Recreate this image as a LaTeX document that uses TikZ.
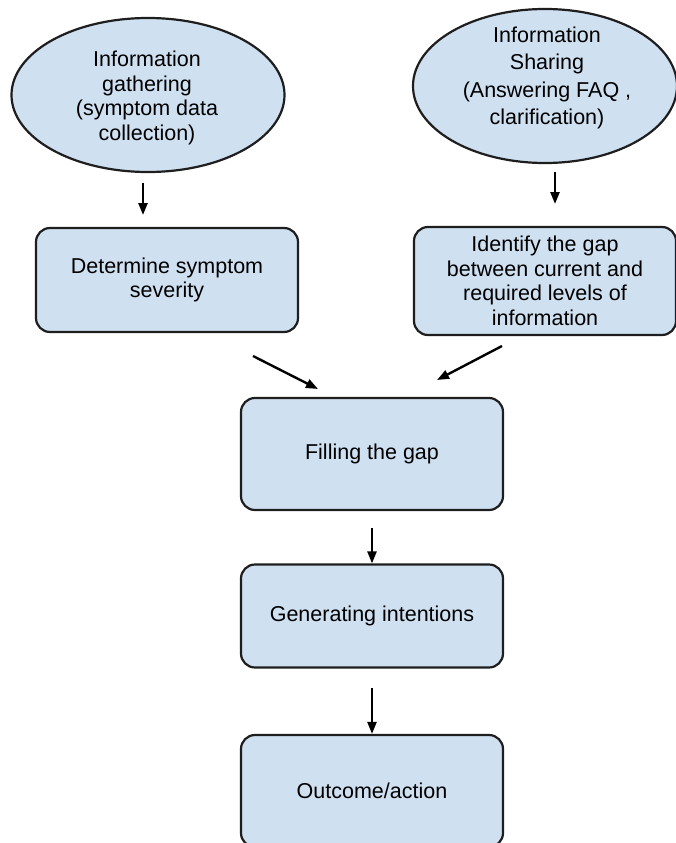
\documentclass[tikz,border=0pt]{standalone}
\usepackage{fontspec}
\setmainfont{Liberation Sans}
\usetikzlibrary{shapes.geometric,arrows.meta}
\definecolor{boxfill}{HTML}{CFE0F1}
\definecolor{boxline}{HTML}{1E1E1E}
\begin{document}
\begin{tikzpicture}[x=1pt,y=-1pt,
  lbl/.style={font=\fontsize{21.5}{24.5}\selectfont, align=center, text=black},
  oval/.style={ellipse, draw=boxline, line width=2.2pt, fill=boxfill, inner sep=0pt},
  stepbox/.style={rectangle, rounded corners=14pt, draw=boxline, line width=2.2pt, fill=boxfill, inner sep=0pt, minimum width=262pt, lbl},
  arr/.style={-{Triangle[length=12pt,width=9pt]}, line width=2.4pt, black}]
\useasboundingbox (0,0) rectangle (676,843);
\clip (0,0) rectangle (676,843);
\node[oval, minimum width=273pt, minimum height=154pt] (e1) at (148,95) {};
\node[lbl] (e1t) at (147,98)
  {Information\\gathering\\(symptom data\\collection)};
\node[oval, minimum width=264pt, minimum height=154pt] (e2) at (545,86) {};
\node[lbl, font=\fontsize{21.5}{27.5}\selectfont] (e2t) at (547,78)
  {Information\\Sharing\\(Answering FAQ ,\\clarification)};
\node[stepbox, minimum width=262pt, minimum height=104pt] (b1) at (167,280)
  {Determine symptom\\severity};
\node[stepbox, minimum height=108pt] (b2) at (545,281)
  {Identify the gap\\between current and\\required levels of\\information};
\node[stepbox, minimum height=112pt] (fill) at (372,454) {Filling the gap};
\node[stepbox, minimum height=103pt] (gen) at (372,616) {Generating intentions};
\node[stepbox, minimum height=112pt] (out) at (372,791) {Outcome/action};
\coordinate (a1s) at (143,183); \coordinate (a1e) at (143,215);
\coordinate (a2s) at (555,172); \coordinate (a2e) at (555,204);
\coordinate (a3s) at (253,356); \coordinate (a3e) at (318,389);
\coordinate (a4s) at (502,346); \coordinate (a4e) at (437,380);
\coordinate (a5s) at (372,528);
\coordinate (a6s) at (372,688);
\draw[arr] (a1s) -- (a1e);
\draw[arr] (a2s) -- (a2e);
\draw[arr] (a3s) -- (a3e);
\draw[arr] (a4s) -- (a4e);
\draw[arr] (a5s) -- (gen.north);
\draw[arr] (a6s) -- (out.north);
\end{tikzpicture}
\end{document}
